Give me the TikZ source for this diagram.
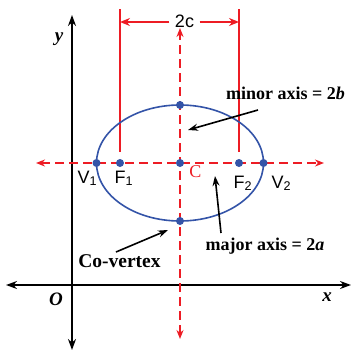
\documentclass[tikz,border=0pt]{standalone}
\usepackage{fontspec}
\setmainfont{Liberation Serif}
\newfontfamily\arialf{Liberation Sans}
\usetikzlibrary{arrows.meta}
\definecolor{myred}{RGB}{237,28,36}
\definecolor{myblue}{RGB}{52,84,168}
\tikzset{
  axisline/.style={black, line width=1.7pt, {Stealth[length=11pt,width=8pt]}-{Stealth[length=11pt,width=8pt]}},
  redaxis/.style={myred, line width=1.6pt, dash pattern=on 9pt off 5pt, {Stealth[length=9pt,width=7pt]}-{Stealth[length=9pt,width=7pt]}},
  redline/.style={myred, line width=1.7pt},
  dimline/.style={myred, line width=1.7pt, -{Stealth[length=10pt,width=8pt]}},
  pointer/.style={black, line width=1.6pt, -{Stealth[length=10pt,width=7pt]}},
  dot/.style={circle, fill=myblue, inner sep=0pt, minimum size=8pt},
  sanslab/.style={font=\arialf\fontsize{18}{20}\selectfont, inner sep=0pt, anchor=base west},
  boldlab/.style={font=\bfseries\fontsize{18}{20}\selectfont, inner sep=0pt, anchor=base},
  axlab/.style={font=\bfseries\itshape\fontsize{19}{20}\selectfont, inner sep=0pt}
}
\begin{document}
\begin{tikzpicture}[x=1pt,y=-1pt]
\useasboundingbox (0,0) rectangle (351,351);
% axes
\coordinate (yb) at (72,350);
\coordinate (yt) at (72,15);
\coordinate (xl) at (6,285);
\coordinate (xr) at (351,285);
\draw[axisline] (yb) -- (yt);
\draw[axisline] (xl) -- (xr);
\node[axlab] (ylab) at (59,39) {y};
\node[axlab] (olab) at (56,299) {O};
\node[axlab] (xlab) at (327,297) {x};
% red dashed axes of ellipse
\coordinate (hl) at (36,163);
\coordinate (hr) at (324,163);
\coordinate (vt) at (180,28);
\coordinate (vb) at (180,339);
\draw[redaxis] (hl) -- (hr);
\draw[redaxis] (vb) -- (vt);
% focal vertical lines
\coordinate (f1t) at (120,9);
\coordinate (f1b) at (120,152);
\coordinate (f2t) at (239,9);
\coordinate (f2b) at (239,152);
\draw[redline] (f1t) -- (f1b);
\draw[redline] (f2t) -- (f2b);
% 2c dimension
\node[font=\arialf\fontsize{18}{20}\selectfont, inner sep=0pt, minimum width=30pt] (twoc) at (184.5,21) {2c};
\coordinate (d1) at (120,22);
\coordinate (d2) at (239,22);
\draw[dimline] (twoc.west |- d1) -- (d1);
\draw[dimline] (twoc.east |- d2) -- (d2);
% ellipse
\draw[myblue, line width=1.6pt] (180,163) ellipse [x radius=83.5pt, y radius=58pt];
% points
\node[dot] (V1) at (96.5,163) {};
\node[dot] (F1) at (120,163) {};
\node[dot] (C) at (180,163) {};
\node[dot] (F2) at (239,163) {};
\node[dot] (V2) at (263.5,163) {};
\node[dot] (B1) at (180,105) {};
\node[dot] (B2) at (180,221) {};
% labels
\node[sanslab] (v1lab) at (77.5,183) {V\textsubscript{1}};
\node[sanslab] (f1lab) at (114.5,183) {F\textsubscript{1}};
\node[sanslab] (f2lab) at (233.5,188) {F\textsubscript{2}};
\node[sanslab] (v2lab) at (271.5,188) {V\textsubscript{2}};
\node[font=\fontsize{18}{20}\selectfont, text=myred, inner sep=0pt, anchor=base] (clab) at (195.5,177) {C};
% texts with pointers
\node[boldlab] (minor) at (285.5,99) {minor axis = 2\textit{b}};
\node[boldlab] (major) at (265,250) {major axis = 2\textit{a}};
\node[boldlab, font=\bfseries\fontsize{19.5}{21}\selectfont] (cov) at (119.5,267) {Co-vertex};
\coordinate (minS) at (258,110);
\coordinate (minE) at (188,130);
\coordinate (majS) at (221,233);
\coordinate (majE) at (215,176);
\coordinate (covS) at (116,252);
\coordinate (covE) at (168,230);
\draw[pointer] (minS) -- (minE);
\draw[pointer] (majS) -- (majE);
\draw[pointer] (covS) -- (covE);
\end{tikzpicture}
\end{document}
